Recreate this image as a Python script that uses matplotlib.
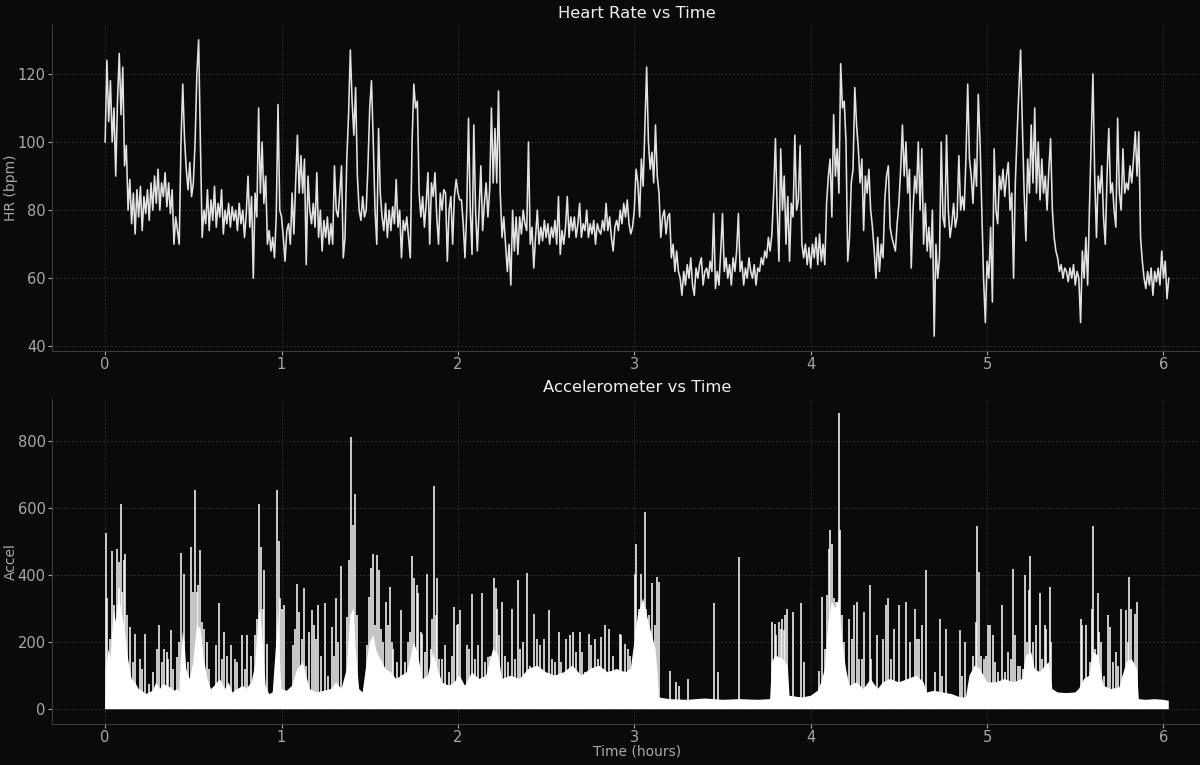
import numpy as np
import matplotlib
matplotlib.use("Agg")
import matplotlib.pyplot as plt

# heart rate, one reading every 0.01 h (0 .. 6.03 h)
hr_bpm = [
    100, 124, 106, 118, 100, 110, 90, 112, 126, 108, 122, 93, 99, 80, 89, 76, 85, 73, 86, 78, 87, 74, 84, 79, 86,
    77, 88, 80, 90, 82, 92, 80, 88, 84, 91, 81, 88, 79, 86, 70, 78, 74, 70, 100, 117, 101, 92, 86, 94, 84,
    88, 100, 120, 130, 100, 72, 80, 76, 86, 74, 83, 77, 87, 75, 82, 78, 86, 73, 80, 76, 82, 75, 81, 77, 80,
    74, 82, 76, 80, 72, 79, 90, 75, 84, 60, 85, 78, 110, 85, 100, 82, 90, 70, 74, 68, 72, 66, 78, 111, 80,
    78, 72, 65, 74, 76, 70, 85, 73, 88, 102, 85, 96, 85, 95, 64, 90, 80, 76, 82, 75, 91, 72, 80, 68, 77,
    72, 78, 70, 76, 70, 93, 80, 78, 85, 93, 66, 72, 95, 108, 127, 112, 102, 116, 90, 80, 77, 84, 78, 80, 93,
    110, 118, 100, 80, 70, 104, 85, 78, 74, 82, 72, 80, 74, 81, 76, 89, 75, 80, 66, 77, 74, 78, 72, 66, 100,
    117, 110, 112, 85, 78, 84, 75, 82, 91, 70, 88, 84, 91, 78, 70, 85, 80, 86, 85, 65, 80, 84, 70, 84, 89,
    85, 83, 83, 76, 66, 80, 107, 80, 67, 105, 80, 68, 80, 93, 74, 82, 88, 78, 86, 110, 88, 104, 88, 115, 85,
    72, 78, 70, 62, 70, 58, 80, 68, 78, 67, 78, 73, 80, 76, 74, 100, 70, 75, 63, 72, 80, 70, 75, 71, 77,
    72, 76, 70, 75, 72, 77, 70, 84, 67, 74, 70, 75, 84, 72, 78, 74, 78, 72, 76, 82, 72, 76, 74, 80, 72,
    76, 73, 77, 70, 76, 74, 73, 77, 74, 82, 74, 78, 72, 68, 75, 77, 74, 80, 76, 82, 78, 83, 76, 73, 75,
    80, 92, 88, 78, 95, 87, 105, 122, 100, 92, 97, 88, 105, 90, 85, 72, 78, 80, 73, 78, 79, 66, 70, 62, 68,
    62, 60, 55, 62, 58, 64, 60, 66, 58, 55, 63, 60, 64, 66, 58, 62, 63, 60, 65, 62, 79, 57, 62, 58, 68,
    79, 62, 66, 60, 64, 58, 66, 62, 68, 79, 62, 65, 58, 63, 60, 66, 62, 60, 64, 58, 63, 62, 66, 64, 68,
    66, 72, 68, 73, 85, 101, 80, 65, 98, 80, 90, 70, 84, 65, 82, 78, 102, 80, 83, 99, 70, 66, 70, 64, 69,
    63, 70, 66, 72, 64, 73, 65, 70, 64, 82, 90, 95, 78, 108, 90, 98, 85, 123, 110, 112, 100, 65, 72, 88, 92,
    116, 105, 98, 88, 95, 74, 90, 85, 92, 80, 75, 68, 60, 72, 62, 70, 66, 83, 90, 93, 75, 72, 70, 68, 76,
    82, 92, 105, 90, 100, 85, 92, 63, 80, 90, 85, 100, 80, 98, 70, 82, 68, 75, 66, 80, 43, 70, 60, 66, 100,
    78, 75, 102, 80, 72, 76, 82, 75, 78, 96, 80, 84, 80, 95, 117, 95, 90, 82, 95, 87, 114, 100, 80, 60, 47,
    65, 60, 75, 53, 98, 80, 76, 90, 86, 92, 84, 90, 94, 80, 85, 60, 88, 102, 115, 127, 105, 85, 71, 95, 85,
    105, 88, 110, 85, 100, 83, 95, 85, 90, 80, 92, 101, 80, 72, 68, 66, 62, 64, 60, 63, 62, 59, 63, 60, 64,
    58, 62, 60, 47, 68, 60, 72, 58, 80, 100, 120, 90, 72, 90, 85, 93, 78, 70, 90, 104, 85, 88, 80, 75, 107,
    85, 80, 98, 85, 88, 86, 93, 88, 95, 103, 90, 103, 72, 65, 60, 57, 62, 58, 63, 55, 62, 59, 63, 58, 68,
    60, 65, 54, 60,
]
hr_hours = np.arange(len(hr_bpm)) * 0.01

# accelerometer: upper edge of the dense white band
acc_band_t = [0.0, 0.003, 0.01, 0.02, 0.03, 0.04, 0.05, 0.06, 0.07, 0.08, 0.09, 0.10, 0.11, 0.12, 0.13,
              0.14, 0.15, 0.17, 0.19, 0.21, 0.23, 0.25, 0.27, 0.29, 0.31, 0.33, 0.35, 0.37, 0.39, 0.41,
              0.42, 0.43, 0.44, 0.45, 0.46, 0.48, 0.50, 0.52, 0.54, 0.56, 0.58, 0.60, 0.62, 0.65, 0.68,
              0.70, 0.72, 0.75, 0.78, 0.80, 0.83, 0.85, 0.87, 0.88, 0.89, 0.90, 0.91, 0.93, 0.95, 0.97,
              0.98, 0.99, 1.00, 1.03, 1.06, 1.09, 1.12, 1.14, 1.16, 1.20, 1.24, 1.28, 1.31, 1.34, 1.37,
              1.39, 1.41, 1.42, 1.44, 1.46, 1.48, 1.50, 1.52, 1.54, 1.56, 1.59, 1.62, 1.65, 1.68, 1.71,
              1.73, 1.75, 1.77, 1.80, 1.83, 1.86, 1.88, 1.91, 1.95, 1.98, 2.01, 2.04, 2.08, 2.12, 2.16,
              2.20, 2.23, 2.25, 2.30, 2.35, 2.40, 2.45, 2.50, 2.55, 2.60, 2.65, 2.70, 2.75, 2.80, 2.85,
              2.90, 2.95, 2.98, 3.00, 3.02, 3.05, 3.08, 3.10, 3.12, 3.13, 3.14, 3.20, 3.30, 3.40, 3.50,
              3.60, 3.70, 3.77, 3.78, 3.80, 3.84, 3.87, 3.88, 3.95, 4.00, 4.04, 4.06, 4.08, 4.10, 4.12,
              4.14, 4.16, 4.18, 4.20, 4.22, 4.26, 4.30, 4.34, 4.38, 4.41, 4.45, 4.50, 4.55, 4.60, 4.64,
              4.66, 4.70, 4.75, 4.80, 4.85, 4.88, 4.90, 4.93, 4.96, 5.00, 5.05, 5.10, 5.15, 5.20, 5.22,
              5.25, 5.27, 5.30, 5.33, 5.35, 5.37, 5.40, 5.45, 5.50, 5.52, 5.55, 5.58, 5.60, 5.63, 5.66,
              5.70, 5.75, 5.79, 5.82, 5.85, 5.86, 5.90, 5.95, 6.00, 6.03]
acc_band_v = [0, 120, 140, 180, 150, 230, 300, 260, 310, 330, 300, 270, 240, 200, 150,
              120, 90, 80, 60, 55, 45, 50, 55, 80, 60, 75, 70, 65, 55, 60,
              50, 150, 230, 200, 120, 90, 140, 250, 240, 150, 90, 60, 70, 90, 60,
              80, 50, 60, 70, 60, 80, 130, 280, 300, 220, 150, 70, 45, 50, 200,
              300, 150, 60, 55, 70, 120, 140, 100, 60, 50, 55, 60, 80, 60, 120,
              280, 300, 180, 60, 50, 130, 200, 220, 170, 150, 120, 110, 90, 100, 110,
              150, 200, 170, 90, 100, 170, 130, 80, 70, 80, 100, 70, 110, 90, 100,
              180, 160, 90, 100, 90, 120, 130, 110, 100, 110, 130, 100, 120, 130, 110,
              120, 110, 120, 200, 280, 330, 260, 220, 180, 120, 35, 30, 28, 32, 28,
              30, 28, 30, 140, 160, 150, 130, 40, 35, 40, 55, 80, 120, 260, 320,
              300, 330, 200, 120, 70, 80, 60, 90, 60, 80, 90, 80, 90, 100, 80,
              50, 55, 50, 45, 35, 35, 100, 130, 120, 80, 80, 90, 80, 90, 160,
              170, 120, 110, 130, 140, 60, 50, 48, 50, 60, 90, 100, 170, 160, 70,
              60, 65, 140, 150, 120, 30, 28, 30, 28, 25]

# accelerometer: isolated spikes above the band
acc_spike_t = [0.006, 0.013, 0.025, 0.040, 0.051, 0.066, 0.076, 0.081, 0.089, 0.098, 0.106, 0.115, 0.126,
               0.142, 0.157, 0.170, 0.195, 0.208, 0.227, 0.246, 0.274, 0.293, 0.308, 0.321, 0.334, 0.349,
               0.359, 0.372, 0.387, 0.406, 0.419, 0.432, 0.448, 0.472, 0.485, 0.500, 0.512, 0.519, 0.529,
               0.536, 0.548, 0.561, 0.576, 0.591, 0.629, 0.648, 0.661, 0.676, 0.689, 0.714, 0.737, 0.750,
               0.774, 0.793, 0.806, 0.825, 0.850, 0.861, 0.873, 0.882, 0.893, 0.901, 0.916, 0.973, 0.984,
               0.991, 1.003, 1.014, 1.067, 1.078, 1.088, 1.101, 1.114, 1.126, 1.139, 1.156, 1.171, 1.184,
               1.195, 1.209, 1.224, 1.248, 1.265, 1.284, 1.297, 1.309, 1.322, 1.335, 1.373, 1.382, 1.392,
               1.403, 1.416, 1.426, 1.483, 1.498, 1.507, 1.517, 1.530, 1.539, 1.551, 1.562, 1.577, 1.590,
               1.601, 1.613, 1.624, 1.634, 1.653, 1.675, 1.700, 1.719, 1.728, 1.741, 1.753, 1.766, 1.775,
               1.788, 1.798, 1.813, 1.826, 1.845, 1.855, 1.866, 1.875, 1.883, 1.894, 1.907, 1.926, 1.951,
               1.964, 1.977, 1.992, 2.002, 2.011, 2.049, 2.064, 2.077, 2.096, 2.115, 2.138, 2.153, 2.172,
               2.181, 2.206, 2.215, 2.223, 2.232, 2.251, 2.266, 2.285, 2.304, 2.323, 2.340, 2.353, 2.368,
               2.389, 2.408, 2.430, 2.449, 2.464, 2.487, 2.516, 2.531, 2.550, 2.572, 2.587, 2.610, 2.635,
               2.654, 2.672, 2.691, 2.706, 2.719, 2.742, 2.757, 2.776, 2.795, 2.810, 2.833, 2.857, 2.880,
               2.918, 2.927, 2.946, 2.965, 2.978, 3.003, 3.012, 3.027, 3.040, 3.050, 3.060, 3.069, 3.082,
               3.091, 3.101, 3.116, 3.129, 3.140, 3.205, 3.239, 3.254, 3.303, 3.454, 3.475, 3.592, 3.783,
               3.796, 3.805, 3.820, 3.831, 3.840, 3.848, 3.857, 3.868, 3.900, 3.943, 3.960, 4.047, 4.066,
               4.080, 4.094, 4.104, 4.111, 4.123, 4.132, 4.142, 4.151, 4.159, 4.166, 4.175, 4.187, 4.217,
               4.234, 4.246, 4.261, 4.272, 4.288, 4.301, 4.334, 4.342, 4.378, 4.410, 4.428, 4.438, 4.453,
               4.472, 4.500, 4.542, 4.561, 4.593, 4.602, 4.614, 4.631, 4.655, 4.703, 4.731, 4.746, 4.769,
               4.844, 4.859, 4.876, 4.920, 4.935, 4.945, 4.952, 4.967, 4.980, 4.995, 5.007, 5.018, 5.033,
               5.043, 5.062, 5.085, 5.104, 5.119, 5.137, 5.147, 5.158, 5.175, 5.188, 5.203, 5.214, 5.226,
               5.235, 5.246, 5.260, 5.279, 5.298, 5.313, 5.326, 5.335, 5.354, 5.365, 5.530, 5.539, 5.562,
               5.581, 5.592, 5.601, 5.614, 5.628, 5.637, 5.647, 5.660, 5.683, 5.694, 5.713, 5.731, 5.741,
               5.757, 5.772, 5.790, 5.799, 5.804, 5.817, 5.836, 5.851]
acc_spike_v = [525, 330, 210, 472, 310, 477, 360, 440, 611, 350, 445, 463, 280,
               245, 140, 225, 150, 120, 225, 75, 110, 180, 250, 140, 180, 170,
               150, 235, 120, 155, 200, 465, 403, 140, 483, 350, 653, 350, 370,
               473, 260, 240, 200, 120, 190, 315, 150, 230, 160, 190, 150, 140,
               220, 120, 220, 160, 220, 270, 611, 482, 300, 414, 195, 653, 500,
               330, 300, 310, 190, 240, 373, 290, 210, 360, 130, 230, 295, 250,
               210, 310, 160, 315, 100, 245, 160, 330, 200, 426, 275, 445, 810,
               550, 641, 280, 190, 335, 420, 462, 250, 460, 415, 240, 200, 320,
               250, 365, 200, 180, 140, 295, 140, 200, 230, 455, 390, 370, 345,
               230, 225, 170, 404, 180, 270, 665, 280, 390, 150, 150, 190, 110,
               160, 305, 250, 255, 295, 190, 180, 344, 150, 190, 345, 140, 155,
               160, 390, 360, 300, 220, 320, 160, 140, 300, 150, 385, 180, 200,
               405, 130, 285, 210, 190, 210, 295, 150, 140, 230, 140, 210, 220,
               230, 170, 230, 170, 110, 225, 190, 210, 150, 215, 250, 240, 160,
               225, 220, 195, 180, 160, 404, 493, 300, 404, 280, 586, 300, 280,
               200, 376, 250, 395, 380, 115, 80, 70, 90, 317, 110, 453, 260,
               255, 220, 260, 240, 270, 235, 280, 300, 290, 315, 140, 115, 334,
               180, 340, 478, 535, 492, 330, 320, 320, 883, 535, 280, 200, 270,
               210, 310, 320, 150, 150, 290, 371, 150, 220, 210, 310, 330, 150,
               240, 310, 320, 200, 300, 210, 210, 250, 416, 110, 270, 100, 240,
               235, 100, 200, 160, 260, 547, 410, 160, 150, 160, 250, 250, 220,
               140, 110, 310, 110, 170, 150, 418, 220, 130, 130, 120, 400, 200,
               355, 455, 200, 250, 345, 150, 250, 240, 365, 200, 270, 250, 250,
               140, 300, 545, 180, 345, 230, 200, 100, 280, 245, 140, 170, 130,
               300, 100, 295, 200, 395, 300, 285, 320]

bg = "#0a0a0a"
fig = plt.figure(figsize=(12, 7.65), dpi=100, facecolor=bg)
ax1 = fig.add_axes([0.0433, 0.5412, 0.975, 0.4261])
ax2 = fig.add_axes([0.0433, 0.0536, 0.975, 0.4248])

for ax in (ax1, ax2):
    ax.set_facecolor(bg)
    ax.grid(True, color="#303030", linestyle=(0, (2, 2)), linewidth=0.7)
    ax.set_axisbelow(True)
    for side in ("top", "right"):
        ax.spines[side].set_visible(False)
    for side in ("left", "bottom"):
        ax.spines[side].set_color("#3c3c3c")
        ax.spines[side].set_linewidth(0.8)
    ax.tick_params(colors="#a8a8a8", labelsize=10.5, length=3, width=0.8, pad=1.5)
    ax.set_xticks(range(7))

ax1.plot(hr_hours, hr_bpm, color="#e2e2e2", linewidth=1.15)
ax1.set_yticks([40, 60, 80, 100, 120])
ax1.set_title("Heart Rate vs Time", color="#f0f0f0", fontsize=11.8, pad=5)
ax1.set_ylabel("HR (bpm)", color="#a8a8a8", fontsize=10)
ax1.yaxis.set_label_coords(-0.029, 0.5)

ax2.fill_between(acc_band_t, 0, acc_band_v, facecolor="white", linewidth=0)
ax2.vlines(acc_spike_t, 0, acc_spike_v, color="white", linewidth=1.1)
ax2.set_xlim(ax1.get_xlim())
ax2.set_ylim(-44, 924)
ax2.set_yticks([0, 200, 400, 600, 800])
ax2.set_title("Accelerometer vs Time", color="#f0f0f0", fontsize=11.8, pad=5)
ax2.set_ylabel("Accel", color="#a8a8a8", fontsize=10)
ax2.yaxis.set_label_coords(-0.029, 0.5)
ax2.set_xlabel("Time (hours)", color="#a8a8a8", fontsize=10)
ax2.xaxis.set_label_coords(0.5, -0.064)

fig.savefig("out.png", dpi=100, facecolor=bg)
